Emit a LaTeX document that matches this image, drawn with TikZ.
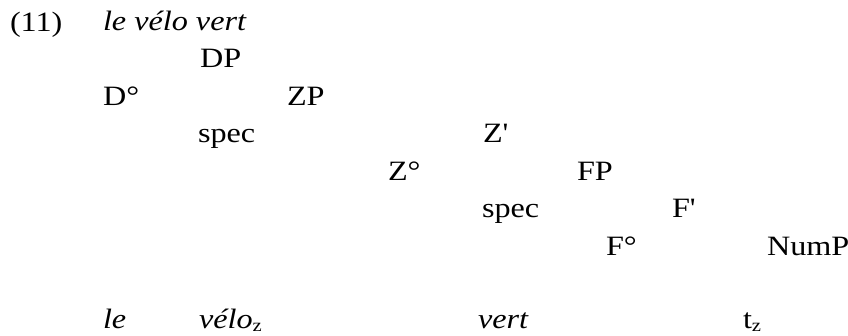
\documentclass[tikz,border=0pt]{standalone}
\usepackage{fontspec}
\setmainfont{Liberation Serif}[Ligatures=TeXOff,FakeStretch=1.15]
\newcommand{\subz}{\raisebox{-2.5pt}{\fontsize{18}{18}\selectfont\upshape z}}
\begin{document}
\begin{tikzpicture}[x=1pt,y=-1pt,
  lab/.style={anchor=base west,inner sep=0pt,outer sep=0pt,font=\fontsize{28}{32}\selectfont},
  word/.style={lab,font=\fontsize{28}{32}\selectfont\itshape}]
\useasboundingbox (0,0) rectangle (848,336);
\node[lab]  (num)   at (10,32)   {(11)};
\node[word] (title) at (103,31)  {le vélo vert};
\node[lab]  (DP)    at (200,68)  {DP};
\node[lab]  (D)     at (103,106) {D°};
\node[lab]  (ZP)    at (287,106) {ZP};
\node[lab]  (specZ) at (198,143) {spec};
\node[lab]  (Zbar)  at (483,143) {Z'};
\node[lab]  (Z)     at (388,181) {Z°};
\node[lab]  (FP)    at (577,181) {FP};
\node[lab]  (specF) at (482,218) {spec};
\node[lab]  (Fbar)  at (672,218) {F'};
\node[lab]  (F)     at (606,256) {F°};
\node[lab]  (NumP)  at (767,256) {NumP};
\node[word] (le)    at (103,329) {le};
\node[word] (velo)  at (199,329) {vélo\subz};
\node[word] (vert)  at (478,329) {vert};
\node[lab]  (t)     at (743,329) {t\subz};
\end{tikzpicture}
\end{document}
